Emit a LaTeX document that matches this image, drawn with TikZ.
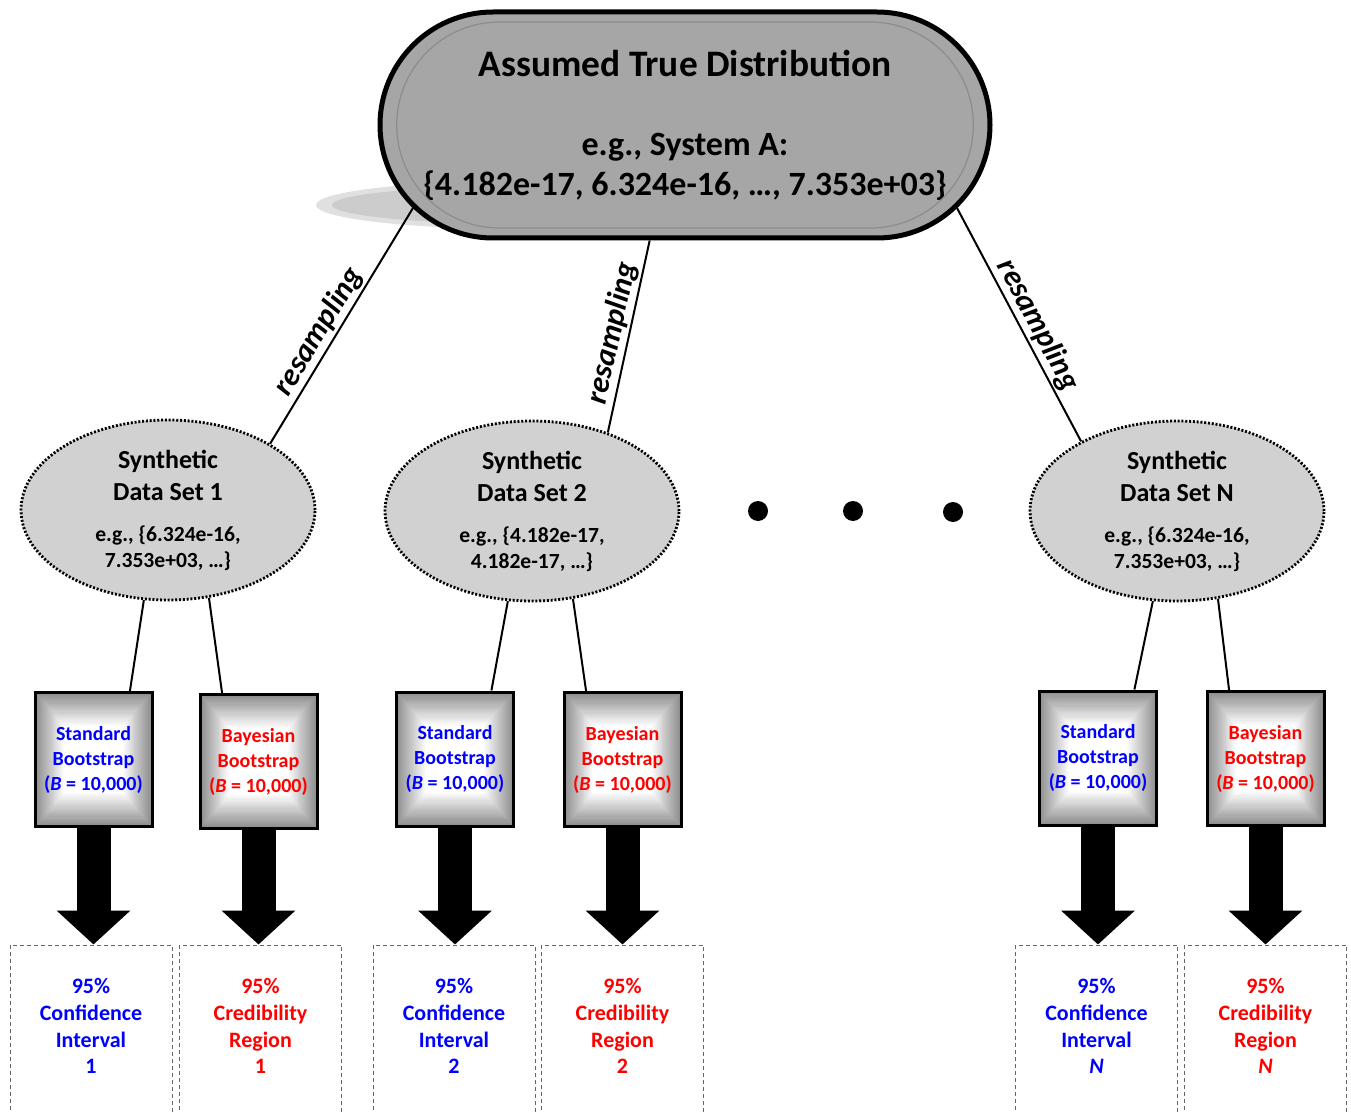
\documentclass[tikz,border=0pt]{standalone}
\usepackage{fontspec}
\setmainfont{Carlito}
\usetikzlibrary{shapes.geometric,shapes.misc,arrows.meta,calc}

\newcommand{\headfont}{\fontsize{13}{16}\selectfont}
\newcommand{\titlefont}{\fontsize{18.7}{22}\selectfont}
\newcommand{\restext}[1]{\raisebox{0.5pt}[0pt][0pt]{\begin{tabular}{@{}c@{}}#1\end{tabular}}}

\begin{document}
\begin{tikzpicture}[x=0.5pt, y=-0.5pt,
    truth/.style={rounded rectangle, draw=black, line width=2.5pt, fill=black!35,
      minimum width=305pt, minimum height=113pt, inner sep=0pt, align=center,
      font=\fontsize{17}{20}\selectfont\bfseries},
    synth/.style={ellipse, draw=black, fill=black!18, line width=1.4pt,
      dash pattern=on 1pt off 0.9pt, minimum width=147pt, minimum height=90pt,
      inner sep=0pt, align=center, font=\fontsize{10.8}{13}\selectfont\bfseries},
    boot/.style={draw=black, line width=1.5pt, fill=white, minimum width=58.5pt,
      minimum height=67pt, inner sep=0pt, align=center,
      font=\fontsize{10}{12.5}\selectfont\bfseries,
      path picture={
        \foreach \k [evaluate=\k as \c using 45-1.5*\k] in {0,...,30}
          \fill[black!\c] ($(path picture bounding box.south west)!\k/120!(path picture bounding box.north east)$)
            rectangle ($(path picture bounding box.north east)!\k/120!(path picture bounding box.south west)$);
      }},
    result/.style={draw=black!60, line width=0.5pt, dash pattern=on 2pt off 1.5pt,
      minimum width=81pt, minimum height=90pt, inner sep=0pt,
      font=\fontsize{11}{13.3}\selectfont\bfseries},
    link/.style={line width=1pt},
    resamp/.style={sloped, above, inner sep=1pt, font=\fontsize{15.5}{18}\selectfont\bfseries\itshape},
    bigarrow/.style={line width=17pt, -{Triangle[length=17pt, width=36pt]}},
    dot/.style={circle, fill=black, minimum size=10pt, inner sep=0pt}]

    \useasboundingbox (0,0) rectangle (1351,1113);

    % shadow under the top node
    \fill[black!12] (520,205) ellipse [x radius=102pt, y radius=12pt];
    \fill[black!20] (526,205) ellipse [x radius=97pt, y radius=9.5pt];

    \node (truth) [truth] at (685,125) {{\titlefont Assumed True Distribution}\\[19.5pt]e.g., System A:\\\{4.182e-17, 6.324e-16, …, 7.353e+03\}};
    \node (truthrim) [rounded rectangle, draw=black!45, line width=0.6pt, minimum width=295pt, minimum height=103pt] at (truth.center) {};

    \node (set1) [synth] at (168,510) {{\headfont Synthetic}\\[3pt]{\headfont Data Set 1}\\[7.5pt]e.g., \{6.324e-16,\\7.353e+03, …\}};
    \node (set2) [synth] at (532,511) {{\headfont Synthetic}\\[3pt]{\headfont Data Set 2}\\[7.5pt]e.g., \{4.182e-17,\\4.182e-17, …\}};
    \node (setN) [synth] at (1177,511) {{\headfont Synthetic}\\[3pt]{\headfont Data Set N}\\[7.5pt]e.g., \{6.324e-16,\\7.353e+03, …\}};

    \node (dot1) [dot] at (758,511) {};
    \node (dot2) [dot] at (853,511) {};
    \node (dot3) [dot] at (953,512) {};

    \draw[link] (truth.197) -- node[resamp, pos=0.56] {resampling} (set1.33);
    \draw[link] (truth.253) -- node[resamp] {resampling} (set2.46);
    \draw[link] (truth.343) -- node[resamp, pos=0.535] {resampling} (setN.144);

    \node (sb1) [boot, text=blue] at (93.5,759.5) {Standard\\Bootstrap\\(\textit{B} = 10,000)};
    \node (bb1) [boot, text=red] at (258.5,761.5) {Bayesian\\Bootstrap\\(\textit{B} = 10,000)};
    \node (sb2) [boot, text=blue] at (455,759) {Standard\\Bootstrap\\(\textit{B} = 10,000)};
    \node (bb2) [boot, text=red] at (622.5,759.5) {Bayesian\\Bootstrap\\(\textit{B} = 10,000)};
    \node (sbN) [boot, text=blue] at (1098,758) {Standard\\Bootstrap\\(\textit{B} = 10,000)};
    \node (bbN) [boot, text=red] at (1265.5,758.5) {Bayesian\\Bootstrap\\(\textit{B} = 10,000)};

    \draw[link] (set1.255) -- (sb1.62);
    \draw[link] (set1.295) -- (bb1.118);
    \draw[link] (set2.255) -- (sb2.62);
    \draw[link] (set2.295) -- (bb2.118);
    \draw[link] (setN.255) -- (sbN.62);
    \draw[link] (setN.295) -- (bbN.118);

    \node (ci1) [result, text=blue] at (91,1035) {\restext{95\%\\Confidence\\Interval\\1}};
    \node (cr1) [result, text=red] at (260.5,1035) {\restext{95\%\\Credibility\\Region\\1}};
    \node (ci2) [result, text=blue] at (454,1035) {\restext{95\%\\Confidence\\Interval\\2}};
    \node (cr2) [result, text=red] at (622.5,1035) {\restext{95\%\\Credibility\\Region\\2}};
    \node (ciN) [result, text=blue] at (1096.5,1035) {\restext{95\%\\Confidence\\Interval\\\textit{N}}};
    \node (crN) [result, text=red] at (1265.5,1035) {\restext{95\%\\Credibility\\Region\\\textit{N}}};

    \draw[bigarrow] (sb1.south) -- (sb1.south |- ci1.north);
    \draw[bigarrow] (bb1.south) -- (bb1.south |- cr1.north);
    \draw[bigarrow] (sb2.south) -- (sb2.south |- ci2.north);
    \draw[bigarrow] (bb2.south) -- (bb2.south |- cr2.north);
    \draw[bigarrow] (sbN.south) -- (sbN.south |- ciN.north);
    \draw[bigarrow] (bbN.south) -- (bbN.south |- crN.north);
\end{tikzpicture}
\end{document}
